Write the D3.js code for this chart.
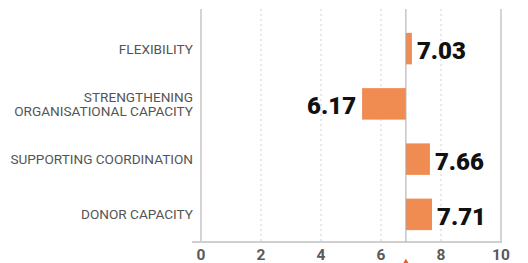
<!DOCTYPE html>
<html>
<head>
<meta charset="utf-8">
<script src="https://cdn.jsdelivr.net/npm/d3@7"></script>
<style>
  body { margin: 0; background: #fff; }
</style>
</head>
<body>
<div id="chart"></div>
<script>
// values
const categories = ["FLEXIBILITY", "STRENGTHENING\nORGANISATIONAL CAPACITY", "SUPPORTING COORDINATION", "DONOR CAPACITY"]
const barEnds = [7.03, 5.37, 7.63, 7.70]
const valueLabels = ["7.03", "6.17", "7.66", "7.71"]
const baseline = 6.83
const ticks = [0, 2, 4, 6, 8, 10]

const width = 528
const height = 263

const svg = d3.select("#chart").append("svg")
    .attr("width", width)
    .attr("height", height)

const x = d3.scaleLinear().domain([0, 10]).range([201, 501])
const y = d3.scaleBand().domain(categories).range([21, 242])
    .paddingInner(0.43).paddingOuter(0.215)

const gridTop = 9, gridBottom = 242

// grid
svg.append("g")
    .selectAll("line")
    .data(ticks)
    .enter()
    .append("line")
    .attr("x1", d => x(d)).attr("x2", d => x(d))
    .attr("y1", gridTop).attr("y2", gridBottom)
    .style("stroke", d => (d === 0 || d === 10) ? "#d4d4d4" : "#cfcfcf")
    .style("stroke-width", d => (d === 0 || d === 10) ? 2 : 1)
    .style("stroke-dasharray", d => (d === 0 || d === 10) ? null : "2,3")

// bottom axis line
svg.append("line")
    .attr("x1", 192).attr("x2", 502)
    .attr("y1", gridBottom).attr("y2", gridBottom)
    .style("stroke", "#cfcfcf")
    .style("stroke-width", 2)

// tick labels
svg.append("g")
    .selectAll("text")
    .data(ticks)
    .enter()
    .append("text")
    .attr("x", d => x(d))
    .attr("y", 259.5)
    .attr("text-anchor", "middle")
    .style("font-family", "Roboto, sans-serif")
    .style("font-weight", "bold")
    .style("font-size", "15.5px")
    .style("fill", "#5a5a5a")
    .text(d => d)

// bars
svg.append("g")
    .selectAll("rect")
    .data(categories)
    .enter()
    .append("rect")
    .attr("x", (d, i) => x(Math.min(barEnds[i], baseline)))
    .attr("width", (d, i) => Math.abs(x(barEnds[i]) - x(baseline)))
    .attr("y", d => y(d))
    .attr("height", y.bandwidth())
    .style("fill", "#f08b51")

// baseline
svg.append("line")
    .attr("x1", x(baseline)).attr("x2", x(baseline))
    .attr("y1", gridTop).attr("y2", gridBottom)
    .style("stroke", "#a8a8a8")
    .style("stroke-width", 1)

// marker under baseline
svg.append("path")
    .attr("d", d3.symbol().type(d3.symbolTriangle).size(14))
    .attr("transform", "translate(" + x(baseline) + "," + 262 + ")")
    .style("fill", "#e65a26")

// category labels
const catLabels = svg.append("g")
    .selectAll("text")
    .data(categories)
    .enter()
    .append("text")
    .attr("text-anchor", "end")
    .style("font-family", "Roboto, sans-serif")
    .style("font-size", "13.6px")
    .style("fill", "#555")

catLabels.each(function(d) {
    const lines = d.split("\n")
    const cy = y(d) + y.bandwidth() / 2
    const t = d3.select(this)
    lines.forEach((line, j) => {
        t.append("tspan")
            .attr("x", 193)
            .attr("y", cy + 5 + (j - (lines.length - 1) / 2) * 13.5)
            .text(line)
    })
})

// value labels
svg.append("g")
    .selectAll("text")
    .data(categories)
    .enter()
    .append("text")
    .attr("x", (d, i) => barEnds[i] >= baseline ? x(barEnds[i]) + 5 : x(barEnds[i]) - 6)
    .attr("y", d => y(d) + y.bandwidth() / 2 + 10.5)
    .attr("text-anchor", (d, i) => barEnds[i] >= baseline ? "start" : "end")
    .style("font-family", "Roboto, sans-serif")
    .style("font-weight", "900")
    .style("font-size", "24px")
    .style("fill", "#111")
    .text((d, i) => valueLabels[i])
</script>
</body>
</html>
